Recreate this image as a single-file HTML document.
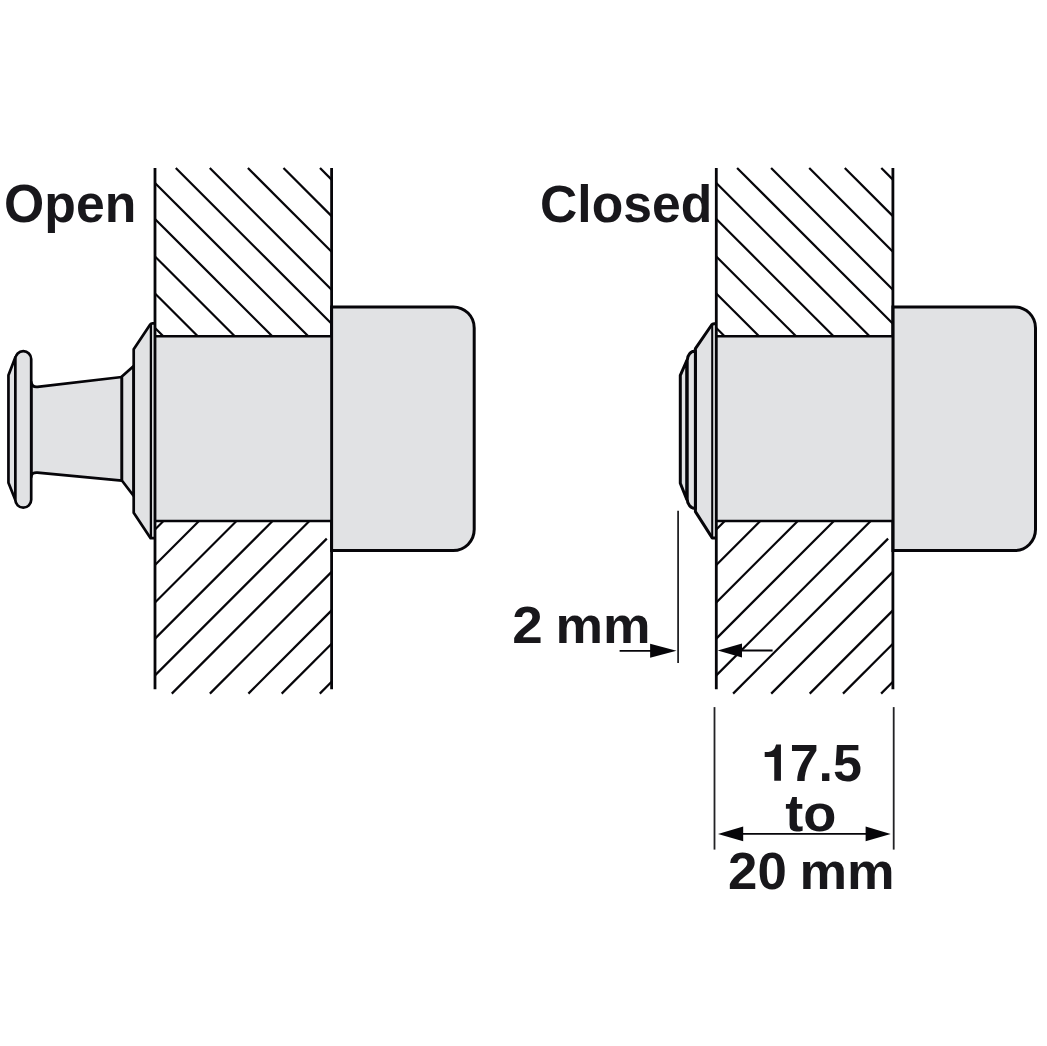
<!DOCTYPE html>
<html><head><meta charset="utf-8"><style>
html,body{margin:0;padding:0;background:#fff;width:1047px;height:1046px;overflow:hidden;}
svg{display:block;}
text{font-family:"Liberation Sans",sans-serif;}
</style></head><body>
<svg width="1047" height="1046" viewBox="0 0 1047 1046">
<path d="M121.9,377 L37.5,386.8 Q31.7,387.3 31.2,382 V477 Q31.7,472 37.5,472.6 L121.9,480.6 Z" fill="#e1e2e4" stroke="#060509" stroke-width="2.7" stroke-linejoin="round"/>
<path d="M133.7,365.9 L121.9,376.5 V480.5 L133.7,496 Z" fill="#e1e2e4" stroke="#060509" stroke-width="2.7" stroke-linejoin="round" stroke-width="2.5"/>
<path d="M155,323.3 H152.5 Q151,323.3 150.2,324.5 L133.7,349.2 V512.8 L150.6,538.2 H155" fill="#e1e2e4" stroke="#060509" stroke-width="2.7" stroke-linejoin="round"/>
<line x1="150.9" y1="324" x2="150.9" y2="538" stroke="#060509" stroke-width="2.3"/>
<path d="M15.35,357.2 L8.45,375.3 V482.8 L15.35,500 Z" fill="#e1e2e4" stroke="#060509" stroke-width="2.7" stroke-linejoin="round"/>
<rect x="15.35" y="351.2" width="15.85" height="156.5" rx="7.9" ry="7.9" fill="#e1e2e4" stroke="#060509" stroke-width="2.7" stroke-linejoin="round"/>
<path d="M716.1,323.8 H714 Q712.5,323.8 711.6,325 L695.4,348.7 V511.6 L712.2,537.9 H716.1" fill="#e1e2e4" stroke="#060509" stroke-width="3.0" stroke-linejoin="round"/>
<line x1="712.2" y1="324.5" x2="712.2" y2="537.5" stroke="#060509" stroke-width="2.0"/>
<path d="M686.8,360.5 L680.3,375.4 V483.2 L686.8,499.5 Z" fill="#e1e2e4" stroke="#060509" stroke-width="3.0" stroke-linejoin="round"/>
<path d="M695.4,350.9 A8.2,9.5 0 0 0 687.2,360.4 V499 A8.2,9.5 0 0 0 695.4,508.5 Z" fill="#e1e2e4" stroke="#060509" stroke-width="3.0" stroke-linejoin="round"/>
<g id="w1" stroke="#060509" stroke-width="2.2">
<path d="M331.6,306.9 H453.2 A21,21 0 0 1 474.2,327.9 V529.6 A21,21 0 0 1 453.2,550.6 H331.6 Z" fill="#e1e2e4" stroke="#060509" stroke-width="3"/>
<rect x="155" y="336.3" width="176.6" height="184.7" fill="#e1e2e4" stroke="none"/>
<line x1="155" y1="336.3" x2="331.6" y2="336.3" stroke="#060509" stroke-width="2.6"/>
<line x1="155" y1="521" x2="331.6" y2="521" stroke="#060509" stroke-width="2.6"/>
<line x1="155" y1="328" x2="163.3" y2="336.3"/>
<line x1="155" y1="293.5" x2="197.8" y2="336.3"/>
<line x1="155" y1="256.5" x2="234.8" y2="336.3"/>
<line x1="155" y1="219" x2="272.3" y2="336.3"/>
<line x1="155" y1="183" x2="308.3" y2="336.3"/>
<line x1="175.8" y1="168" x2="331.6" y2="323.8"/>
<line x1="209.8" y1="168" x2="331.6" y2="289.8"/>
<line x1="247.9" y1="168" x2="331.6" y2="251.7"/>
<line x1="283.5" y1="168" x2="331.6" y2="216.1"/>
<line x1="320" y1="168" x2="331.6" y2="179.6"/>
<line x1="155" y1="529.5" x2="163.5" y2="521"/>
<line x1="155" y1="565" x2="199" y2="521"/>
<line x1="155" y1="602.5" x2="236.5" y2="521"/>
<line x1="155" y1="638.6" x2="272.6" y2="521"/>
<line x1="155" y1="675.4" x2="309.4" y2="521"/>
<line x1="171.8" y1="693.6" x2="326.8" y2="538.6"/>
<line x1="209.9" y1="693.6" x2="331.6" y2="571.9"/>
<line x1="248.4" y1="693.6" x2="331.6" y2="610.4"/>
<line x1="281.7" y1="693.6" x2="331.6" y2="643.7"/>
<line x1="319.8" y1="693.6" x2="331.6" y2="681.8"/>
<line x1="155" y1="168" x2="155" y2="689.2" stroke="#060509" stroke-width="2.8"/>
<line x1="331.6" y1="168" x2="331.6" y2="689.2" stroke="#060509" stroke-width="2.8"/>
</g>
<g transform="translate(561.3,0)" stroke="#060509" stroke-width="2.2">
<path d="M331.6,306.9 H453.2 A21,21 0 0 1 474.2,327.9 V529.6 A21,21 0 0 1 453.2,550.6 H331.6 Z" fill="#e1e2e4" stroke="#060509" stroke-width="3"/>
<rect x="155" y="336.3" width="176.6" height="184.7" fill="#e1e2e4" stroke="none"/>
<line x1="155" y1="336.3" x2="331.6" y2="336.3" stroke="#060509" stroke-width="2.6"/>
<line x1="155" y1="521" x2="331.6" y2="521" stroke="#060509" stroke-width="2.6"/>
<line x1="155" y1="328" x2="163.3" y2="336.3"/>
<line x1="155" y1="293.5" x2="197.8" y2="336.3"/>
<line x1="155" y1="256.5" x2="234.8" y2="336.3"/>
<line x1="155" y1="219" x2="272.3" y2="336.3"/>
<line x1="155" y1="183" x2="308.3" y2="336.3"/>
<line x1="175.8" y1="168" x2="331.6" y2="323.8"/>
<line x1="209.8" y1="168" x2="331.6" y2="289.8"/>
<line x1="247.9" y1="168" x2="331.6" y2="251.7"/>
<line x1="283.5" y1="168" x2="331.6" y2="216.1"/>
<line x1="320" y1="168" x2="331.6" y2="179.6"/>
<line x1="155" y1="529.5" x2="163.5" y2="521"/>
<line x1="155" y1="565" x2="199" y2="521"/>
<line x1="155" y1="602.5" x2="236.5" y2="521"/>
<line x1="155" y1="638.6" x2="272.6" y2="521"/>
<line x1="155" y1="675.4" x2="309.4" y2="521"/>
<line x1="171.8" y1="693.6" x2="326.8" y2="538.6"/>
<line x1="209.9" y1="693.6" x2="331.6" y2="571.9"/>
<line x1="248.4" y1="693.6" x2="331.6" y2="610.4"/>
<line x1="281.7" y1="693.6" x2="331.6" y2="643.7"/>
<line x1="319.8" y1="693.6" x2="331.6" y2="681.8"/>
<line x1="155" y1="168" x2="155" y2="689.2" stroke="#060509" stroke-width="2.8"/>
<line x1="331.6" y1="168" x2="331.6" y2="689.2" stroke="#060509" stroke-width="2.8"/>
</g>
<line x1="678.1" y1="510.8" x2="678.1" y2="663" stroke="#222225" stroke-width="1.8"/>
<line x1="619.6" y1="650.8" x2="655" y2="650.8" stroke="#060509" stroke-width="1.8"/>
<path d="M676.5,650.8 L650.1,643.8 L650.1,657.8 Z" fill="#060509"/>
<line x1="735" y1="650.5" x2="772.6" y2="650.5" stroke="#060509" stroke-width="1.8"/>
<path d="M717.7,650.5 L742,643.5 L742,657.5 Z" fill="#060509"/>
<line x1="714.5" y1="707.1" x2="714.5" y2="849.6" stroke="#222225" stroke-width="1.8"/>
<line x1="893.7" y1="707.1" x2="893.7" y2="849.6" stroke="#222225" stroke-width="1.8"/>
<line x1="735" y1="833.9" x2="872" y2="833.9" stroke="#060509" stroke-width="1.9"/>
<path d="M718,833.9 L743.2,826.5 L743.2,841.3 Z" fill="#060509"/>
<path d="M890.7,833.9 L865.6,826.5 L865.6,841.3 Z" fill="#060509"/>
<text transform="translate(4.08,222) scale(0.9621,0.99)" font-family="Liberation Sans, sans-serif" font-weight="bold" font-size="53.8" fill="#18171b">Open</text>
<text transform="translate(539.98,222.2) scale(0.9603,0.975)" font-family="Liberation Sans, sans-serif" font-weight="bold" font-size="53.8" fill="#18171b">Closed</text>
<text transform="translate(512.26,643.1) scale(1.0192,0.965)" font-family="Liberation Sans, sans-serif" font-weight="bold" font-size="53.8" fill="#18171b">2</text>
<text transform="translate(555.43,643.1) scale(0.9932,0.965)" font-family="Liberation Sans, sans-serif" font-weight="bold" font-size="53.8" fill="#18171b">mm</text>
<text transform="translate(789.66,780.7) scale(0.9676,0.98)" font-family="Liberation Sans, sans-serif" font-weight="bold" font-size="53.8" fill="#18171b">7.5</text>
<text transform="translate(785.29,831) scale(1.0083,0.98)" font-family="Liberation Sans, sans-serif" font-weight="bold" font-size="53.8" fill="#18171b">to</text>
<text transform="translate(728.04,889) scale(0.9821,0.955)" font-family="Liberation Sans, sans-serif" font-weight="bold" font-size="53.8" fill="#18171b">20</text>
<text transform="translate(799.42,889) scale(0.9955,0.955)" font-family="Liberation Sans, sans-serif" font-weight="bold" font-size="53.8" fill="#18171b">mm</text>
<path d="M764.7,751.9 L768.3,751.9 Q774.6,751.2 776.1,744.4 L780.95,744.4 L780.95,780.7 L774.25,780.7 L774.25,756.9 L764.7,756.9 Z" fill="#18171b"/>
</svg>
</body></html>
